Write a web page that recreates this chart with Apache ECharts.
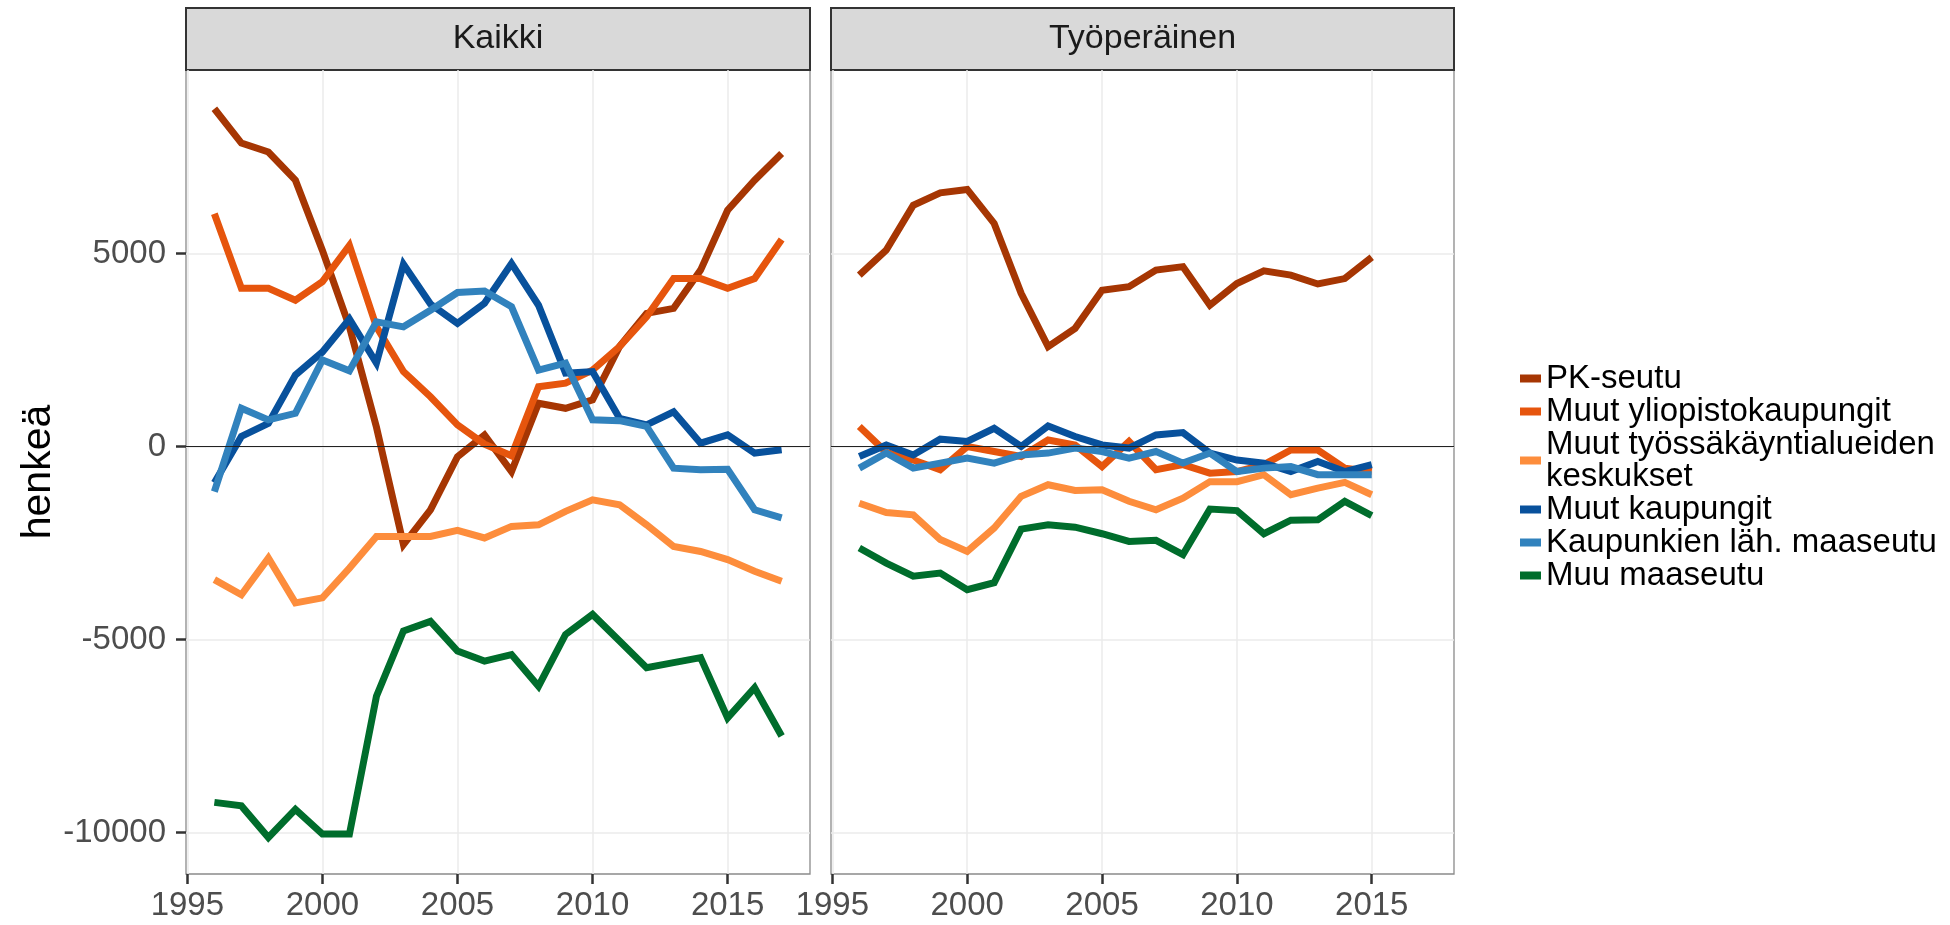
<!DOCTYPE html>
<html>
<head>
<meta charset="utf-8">
<script src="https://cdn.jsdelivr.net/npm/echarts@6/dist/echarts.min.js"></script>
<style>
html,body{margin:0;padding:0;background:#ffffff;}
#chart{width:1950px;height:925px;}
</style>
</head>
<body>
<div id="chart"></div>
<script>
// ---------- DATA ----------
const seriesNames = [
  'PK-seutu',
  'Muut yliopistokaupungit',
  'Muut työssäkäyntialueiden keskukset',
  'Muut kaupungit',
  'Kaupunkien läh. maaseutu',
  'Muu maaseutu'
];
const seriesColors = ['#A63603', '#E6550D', '#FD8D3C', '#08519C', '#3182BD', '#006D2C'];
const panelTitles = ['Kaikki', 'Työperäinen'];
const xTicks = [1995, 2000, 2005, 2010, 2015];
const yTicks = [-10000, -5000, 0, 5000];

const yearsKaikki = [1996,1997,1998,1999,2000,2001,2002,2003,2004,2005,2006,2007,2008,2009,2010,2011,2012,2013,2014,2015,2016,2017];
const yearsTyo    = [1996,1997,1998,1999,2000,2001,2002,2003,2004,2005,2006,2007,2008,2009,2010,2011,2012,2013,2014,2015];

// Kaikki
const kaikkiPK       = [8750,7860,7630,6900,5080,3100,500,-2540,-1640,-263,300,-650,1120,990,1210,2590,3450,3580,4570,6120,6900,7590];
const kaikkiYlio     = [6030,4100,4100,3790,4270,5210,3100,1940,1290,560,60,-240,1550,1640,1980,2590,3360,4350,4350,4100,4350,5360];
const kaikkiTyossa   = [-3450,-3840,-2890,-4050,-3920,-3150,-2330,-2330,-2330,-2170,-2370,-2070,-2030,-1680,-1380,-1510,-2030,-2590,-2720,-2930,-3230,-3490];
const kaikkiKaup     = [-940,260,600,1850,2450,3300,2160,4720,3690,3190,3710,4740,3660,1900,1940,730,560,900,86,300,-170,-86];
const kaikkiLah      = [-1170,990,690,860,2240,1960,3230,3100,3530,3990,4030,3620,1980,2160,690,670,520,-560,-600,-590,-1640,-1850];
const kaikkiMaaseutu = [-9220,-9310,-10130,-9400,-10040,-10040,-6470,-4780,-4530,-5300,-5560,-5390,-6210,-4870,-4350,-5040,-5730,-5600,-5470,-7030,-6250,-7500];

// Työperäinen
const tyoPK       = [4440,5090,6250,6570,6660,5780,3970,2590,3060,4050,4140,4570,4660,3660,4220,4550,4440,4210,4350,4900];
const tyoYlio     = [520,-150,-350,-600,0,-130,-260,170,40,-520,130,-600,-470,-690,-650,-470,-90,-90,-560,-650];
const tyoTyossa   = [-1470,-1710,-1770,-2410,-2720,-2110,-1290,-990,-1140,-1120,-1420,-1640,-1340,-910,-910,-730,-1250,-1080,-930,-1250];
const tyoKaup     = [-260,40,-220,190,130,470,0,530,260,40,-40,300,360,-170,-350,-430,-650,-390,-650,-470];
const tyoLah      = [-560,-170,-560,-430,-300,-430,-220,-170,-40,-130,-300,-130,-430,-170,-650,-560,-520,-730,-730,-730];
const tyoMaaseutu = [-2630,-3020,-3360,-3280,-3710,-3530,-2140,-2030,-2090,-2260,-2460,-2430,-2800,-1620,-1660,-2260,-1910,-1900,-1420,-1790];

const panelYears = [yearsKaikki, yearsTyo];
const panelValues = [
  [kaikkiPK, kaikkiYlio, kaikkiTyossa, kaikkiKaup, kaikkiLah, kaikkiMaaseutu],
  [tyoPK, tyoYlio, tyoTyossa, tyoKaup, tyoLah, tyoMaaseutu]
];

// ---------- LAYOUT ----------
const FONT = '"Liberation Sans", Arial, sans-serif';
const panels = [
  {left: 186, width: 624},
  {left: 831, width: 623}
];
const plotTop = 70, plotHeight = 804;
const stripTop = 8;

const chart = echarts.init(document.getElementById('chart'), null, {renderer: 'canvas'});

const grids = panels.map(p => ({
  left: p.left, top: plotTop, width: p.width, height: plotHeight,
  show: true, backgroundColor: '#ffffff', borderColor: '#8a8a8a', borderWidth: 1.3,
  containLabel: false
}));

const xAxes = panels.map((p, i) => ({
  type: 'value', gridIndex: i, min: 1994.95, max: 2018.05, position: 'bottom',
  axisLine: {show: false, onZero: false},
  axisTick: {show: true, length: 10, customValues: xTicks, lineStyle: {color: '#333333', width: 2.5}},
  axisLabel: {show: true, customValues: xTicks, fontSize: 33, color: '#4D4D4D', margin: 15,
              fontFamily: FONT, formatter: v => String(v)},
  splitLine: {show: true, lineStyle: {color: '#EBEBEB', width: 1.5}}
}));

const yAxes = panels.map((p, i) => ({
  type: 'value', gridIndex: i, min: -11075, max: 9754, position: 'left',
  name: i === 0 ? 'henkeä' : '',
  nameLocation: 'middle', nameGap: 118,
  nameTextStyle: {fontSize: 41, color: '#000000', fontFamily: FONT},
  axisLine: {show: false, onZero: false},
  axisTick: {show: i === 0, length: 10, customValues: yTicks, lineStyle: {color: '#333333', width: 2.5}},
  axisLabel: {show: i === 0, customValues: yTicks, fontSize: 33, color: '#4D4D4D', margin: 20,
              fontFamily: FONT, formatter: v => String(v)},
  splitLine: {show: true, lineStyle: {color: '#EBEBEB', width: 1.5}}
}));

const series = [];
panelValues.forEach((vals, pi) => {
  vals.forEach((arr, si) => {
    const s = {
      type: 'line', name: seriesNames[si], xAxisIndex: pi, yAxisIndex: pi,
      data: panelYears[pi].map((yr, k) => [yr, arr[k]]),
      symbol: 'none', showSymbol: false, smooth: false,
      color: seriesColors[si],
      itemStyle: {color: seriesColors[si]},
      lineStyle: {color: seriesColors[si], width: 7, cap: 'butt', join: 'miter'},
      animation: false, silent: true
    };
    if (si === vals.length - 1) {
      s.markLine = {
        silent: true, symbol: 'none', animation: false,
        label: {show: false},
        lineStyle: {color: '#222222', width: 1.2, type: 'solid'},
        data: [{yAxis: 0}]
      };
    }
    series.push(s);
  });
});

const graphics = [];
panels.forEach((p, i) => {
  graphics.push({
    type: 'rect', silent: true,
    shape: {x: p.left, y: stripTop, width: p.width, height: plotTop - stripTop},
    style: {fill: '#D9D9D9', stroke: '#333333', lineWidth: 2}
  });
  graphics.push({
    type: 'text', silent: true,
    x: p.left + p.width / 2, y: (stripTop + plotTop) / 2,
    style: {text: panelTitles[i], fontSize: 34, fill: '#1A1A1A', fontFamily: FONT,
            align: 'center', verticalAlign: 'middle'}
  });
});

chart.setOption({
  animation: false,
  backgroundColor: '#ffffff',
  textStyle: {fontFamily: FONT},
  grid: grids,
  xAxis: xAxes,
  yAxis: yAxes,
  legend: {
    data: seriesNames,
    orient: 'vertical',
    left: 1520, top: 362, padding: 0,
    icon: 'rect', itemWidth: 21, itemHeight: 8, itemGap: 0,
    selectedMode: false,
    formatter: name => name === 'Muut työssäkäyntialueiden keskukset' ? 'Muut työssäkäyntialueiden\nkeskukset' : name,
    textStyle: {fontSize: 33, lineHeight: 32, color: '#000000', fontFamily: FONT}
  },
  graphic: graphics,
  series: series
});
</script>
</body>
</html>
